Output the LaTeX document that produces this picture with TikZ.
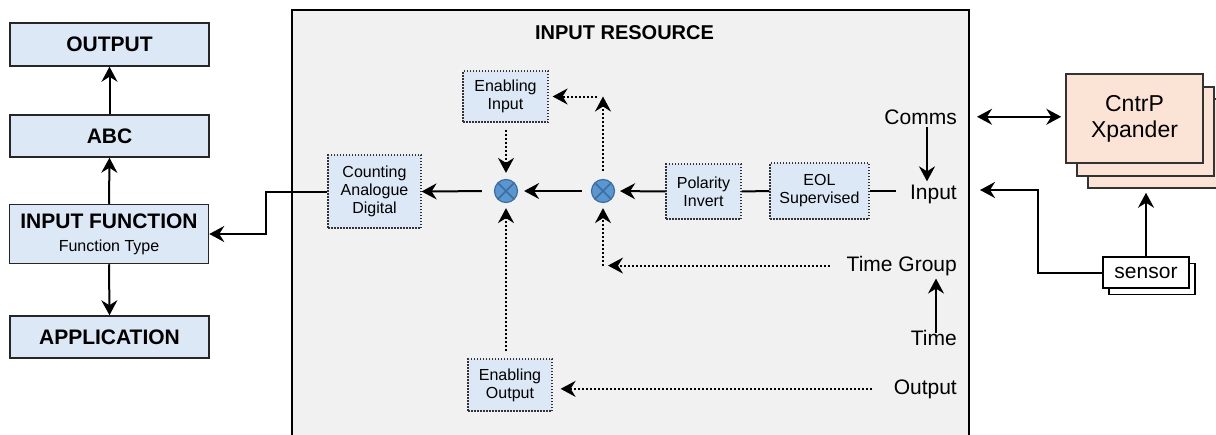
\documentclass[tikz,border=0pt]{standalone}
\usepackage{fontspec}
\setmainfont{Liberation Sans}
\usetikzlibrary{arrows.meta,calc}

\definecolor{boxblue}{HTML}{DCE8F6}
\definecolor{panelgray}{HTML}{F1F1F1}
\definecolor{peach}{HTML}{FBE3D6}
\definecolor{sumfill}{HTML}{5A96D2}
\definecolor{sumline}{HTML}{3C6E9E}

\tikzset{
  arr/.style={-{Stealth[length=15pt,width=16pt,inset=5pt]}, line width=2pt},
  arrboth/.style={{Stealth[length=15pt,width=16pt,inset=5pt]}-{Stealth[length=15pt,width=16pt,inset=5pt]}, line width=2pt},
  dotarr/.style={arr, dash pattern=on 2pt off 2pt},
  plainline/.style={line width=2pt},
  mainbox/.style={draw=black!85, line width=1.5pt, fill=boxblue, minimum width=199pt,
    inner sep=0pt, align=center, font=\bfseries\fontsize{21}{24}\selectfont},
  smallbox/.style={draw=black!80, line width=1.2pt, dash pattern=on 1.5pt off 1.5pt,
    fill=boxblue, inner sep=0pt, align=center, font=\fontsize{16}{18}\selectfont},
  lbl/.style={anchor=base east, inner sep=3pt, font=\fontsize{21}{24}\selectfont},
  sumnode/.style={circle, minimum size=23pt, inner sep=0pt, fill=sumfill, draw=sumline,
    line width=1.2pt,
    path picture={\draw[sumline, line width=1.5pt]
      (path picture bounding box.north west) -- (path picture bounding box.south east)
      (path picture bounding box.north east) -- (path picture bounding box.south west);}},
  cpbox/.style={draw=black!80, line width=1.5pt, fill=peach, minimum width=137pt,
    minimum height=89pt, inner sep=0pt, align=center, font=\fontsize{23}{26}\selectfont},
  sensbox/.style={draw=black, line width=1.5pt, fill=white, minimum width=86pt,
    minimum height=31pt, inner sep=0pt, font=\fontsize{21}{24}\selectfont}
}

\begin{document}
\begin{tikzpicture}[x=1pt,y=-1pt]
\useasboundingbox (0,0) rectangle (1216,434);
\clip (0,0) rectangle (1216,434);

% left column
\node[mainbox, minimum height=43pt] (out) at (109.5,44.5) {OUTPUT};
\node[mainbox, minimum height=42pt] (abc) at (109.5,136) {ABC};
\node[mainbox, minimum height=59pt] (ifn) at (109,234)
  {INPUT FUNCTION\\[-1pt]{\mdseries\fontsize{16}{18}\selectfont Function Type}};
\node[mainbox, minimum height=42pt] (app) at (109.5,337) {APPLICATION};

\draw[arr] (abc.north) -- (out.south);
\draw[arr] (ifn.north) -- (abc.south);
\draw[arr] (ifn.south) -- (app.north);

% input resource panel
\draw[line width=2pt, fill=panelgray] (292,10) rectangle (969,470);
\node[font=\bfseries\fontsize{20}{24}\selectfont] (title) at (624.5,33) {INPUT RESOURCE};

\node[smallbox, minimum width=93pt, minimum height=73pt] (count) at (374.5,191.5)
  {Counting\\Analogue\\Digital};
\node[smallbox, minimum width=85pt, minimum height=51pt] (einput) at (505.5,96.5)
  {Enabling\\Input};
\node[smallbox, minimum width=84pt, minimum height=52pt] (eoutput) at (510,385)
  {Enabling\\Output};
\node[smallbox, minimum width=75pt, minimum height=55pt] (pol) at (703.5,191.5)
  {Polarity\\Invert};
\node[smallbox, minimum width=99pt, minimum height=56pt] (eol) at (819.5,191)
  {EOL\\Supervised};

\node[sumnode] (c1) at (506,191) {};
\node[sumnode] (c2) at (603,191) {};

\node[lbl] (comms) at (960,124) {Comms};
\node[lbl] (input) at (960,199) {Input};
\node[lbl] (tgroup) at (960,271) {Time Group};
\node[lbl] (time) at (960,345) {Time};
\node[lbl] (outlbl) at (960,394) {Output};

% signal chain
\draw[plainline, shorten <=11pt] (eol.east -| input.west) -- (eol.east);
\draw[plainline] (eol.west) -- (pol.east);
\draw[arr, shorten >=5pt] (pol.west) -- (c2.east);
\draw[arr, shorten <=9pt, shorten >=6pt] (c2.west) -- (c1.east);
\draw[arr, shorten <=12pt] (c1.west) -- (count.east);

\coordinate (bend) at (266,0);
\draw[arr] (count.west) -- (count.west -| bend) |- (ifn.east);

% enabling paths
\draw[dotarr, shorten <=7pt, shorten >=6pt] (einput.south -| c1) -- (c1.north);
\draw[dotarr, shorten <=7pt, shorten >=5pt] (eoutput.north -| c1) -- (c1.south);
\coordinate (up2) at (c2 |- einput);
\draw[dotarr, shorten <=8pt] (c2.north) -- (up2);
\draw[dotarr, shorten <=6pt, shorten >=4pt] (up2) -- (up2 -| einput.east);
\coordinate (tgc) at (c2 |- tgroup.west);
\draw[dotarr, shorten <=14pt] (tgroup.west) -- ([xshift=5pt]tgc);
\draw[dotarr, shorten >=5pt] (tgc) -- (c2.south);
\draw[dotarr, shorten <=19pt, shorten >=8pt] (outlbl.west) -- (outlbl.west -| eoutput.east);

\coordinate (cx) at (927,0);
\draw[arr] (comms.south -| cx) -- (input.north -| cx);
\coordinate (tx) at (936,0);
\draw[arr, shorten <=-6pt] (time.north -| tx) -- (tgroup.south -| tx);

% expander stack
\node[cpbox] (cp3) at (1156.5,143.5) {};
\node[cpbox] (cp2) at (1145.5,131.5) {};
\node[cpbox] (cp1) at (1134.5,118.5) {CntrP\\Xpander};

% sensor stack
\node[sensbox] (sens2) at (1152,279) {};
\node[sensbox] (sensor) at (1146,272.5) {sensor};

\draw[arrboth, shorten <=17pt, shorten >=4pt] (comms.east) -- (comms.east -| cp1.west);
\draw[arr, shorten >=4pt] (sensor.north) -- (sensor.north |- cp3.south);
\coordinate (sx) at (1038,0);
\coordinate (inR) at (980,190);
\draw[arr] (sensor.west) -- (sensor.west -| sx) |- (inR);
\end{tikzpicture}
\end{document}
